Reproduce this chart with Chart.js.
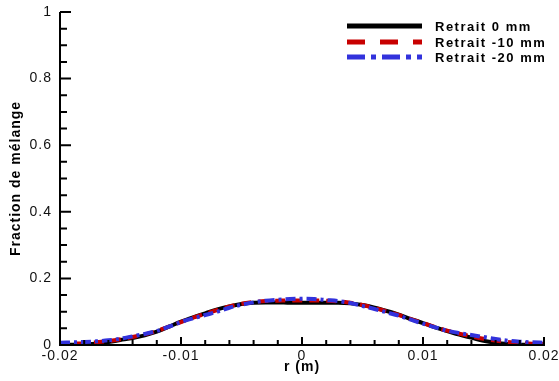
<!DOCTYPE html>
<html><head><meta charset="utf-8">
<script src="https://cdn.jsdelivr.net/npm/chart.js@4/dist/chart.umd.min.js"></script>
<style>html,body{margin:0;padding:0;background:#fff}#wrap{width:559px;height:381px}</style>
</head><body><div id="wrap"><canvas id="c" width="559" height="381"></canvas></div>
<script>
const radius = [-0.020,-0.019,-0.018,-0.017,-0.016,-0.015,-0.014,-0.013,-0.012,-0.011,-0.010,-0.009,-0.008,-0.007,-0.006,-0.005,-0.004,-0.003,-0.002,-0.001,0,0.001,0.002,0.003,0.004,0.005,0.006,0.007,0.008,0.009,0.010,0.011,0.012,0.013,0.014,0.015,0.016,0.017,0.018,0.019,0.020];
const retrait0 = [0.001,0.001,0.002,0.004,0.009,0.015,0.021,0.029,0.040,0.055,0.070,0.083,0.095,0.107,0.116,0.123,0.127,0.128,0.128,0.127,0.127,0.127,0.127,0.127,0.125,0.120,0.112,0.102,0.091,0.078,0.066,0.053,0.042,0.031,0.022,0.013,0.007,0.003,0.001,0.001,0.001];
const retrait10 = [0.003,0.004,0.005,0.008,0.012,0.017,0.024,0.032,0.042,0.055,0.069,0.082,0.094,0.105,0.116,0.124,0.129,0.132,0.133,0.134,0.134,0.134,0.133,0.131,0.127,0.120,0.111,0.101,0.090,0.078,0.066,0.054,0.043,0.034,0.026,0.019,0.013,0.009,0.006,0.004,0.003];
const retrait20 = [0.007,0.008,0.009,0.011,0.014,0.019,0.026,0.033,0.042,0.055,0.069,0.080,0.090,0.100,0.112,0.121,0.128,0.133,0.136,0.138,0.139,0.138,0.135,0.132,0.126,0.117,0.108,0.098,0.088,0.076,0.064,0.053,0.043,0.036,0.030,0.024,0.018,0.013,0.010,0.008,0.007];
const seriesLabels = ['Retrait 0 mm','Retrait -10 mm','Retrait -20 mm'];
const xMajorTicks = [-0.02,-0.01,0,0.01,0.02];
const yMajorTicks = [0,0.2,0.4,0.6,0.8,1];

const FONT = '"Liberation Sans", Arial, sans-serif';
const toXY = arr => arr.map((v,i)=>({x:radius[i], y:v}));

const spacing = {
  id: 'spacing',
  beforeLayout(chart){ try { chart.ctx.letterSpacing = '1px'; } catch(e) {} },
  beforeDraw(chart){ try { chart.ctx.letterSpacing = '1px'; } catch(e) {} }
};

const axisTicks = {
  id:'axisTicks',
  afterDraw(chart){
    const ctx = chart.ctx, xs = chart.scales.x, ys = chart.scales.y, a = chart.chartArea;
    ctx.save();
    ctx.strokeStyle = '#000';
    ctx.lineWidth = 2;
    ctx.beginPath();
    ctx.moveTo(a.left, a.top); ctx.lineTo(a.left, a.bottom + 1);
    ctx.moveTo(a.left - 1, a.bottom); ctx.lineTo(a.right + 1, a.bottom);
    for (let k = -10; k <= 10; k++) {
      const v = k * 0.002;
      const px = xs.getPixelForValue(v);
      const major = k % 5 === 0;
      ctx.moveTo(px, a.bottom); ctx.lineTo(px, a.bottom - (major ? 8 : 5));
    }
    for (let k = 0; k <= 20; k++) {
      const v = k * 0.05;
      const py = ys.getPixelForValue(v);
      const major = k % 4 === 0;
      ctx.moveTo(a.left, py); ctx.lineTo(a.left + (major ? 11 : 7), py);
    }
    ctx.stroke();

    const ds = chart.data.datasets;
    const rows = [26, 42, 57];
    ctx.font = 'bold 13px ' + FONT;
    ctx.textBaseline = 'middle';
    ctx.textAlign = 'left';
    try { ctx.letterSpacing = '1.5px'; } catch(e) {}
    ds.forEach((d, i) => {
      const y = rows[i];
      ctx.beginPath();
      ctx.strokeStyle = d.borderColor;
      ctx.lineWidth = 5;
      ctx.setLineDash(d.legendDash || []);
      ctx.moveTo(347, y); ctx.lineTo(422, y);
      ctx.stroke();
      ctx.setLineDash([]);
      ctx.fillStyle = '#000';
      ctx.fillText(d.label, 435, y + 1);
    });
    ctx.restore();
  }
};

new Chart(document.getElementById('c'), {
  type: 'line',
  data: {
    datasets: [
      {label: seriesLabels[0], data: toXY(retrait0), borderColor:'#000000', borderWidth:4, pointRadius:0, cubicInterpolationMode:'monotone', order:3, legendDash:[]},
      {label: seriesLabels[1], data: toXY(retrait10), borderColor:'#c80000', borderWidth:4, borderDash:[10,7], pointRadius:0, cubicInterpolationMode:'monotone', order:2, legendDash:[18,15]},
      {label: seriesLabels[2], data: toXY(retrait20), borderColor:'#3232dc', borderWidth:4, borderDash:[10,4,3,4], pointRadius:0, cubicInterpolationMode:'monotone', order:1, legendDash:[18,6,5,6]}
    ]
  },
  options: {
    responsive: false,
    animation: false,
    devicePixelRatio: 1,
    layout: {padding: {top: 12, right: 15, left: 0, bottom: 0}},
    plugins: {legend: {display: false}, tooltip: {enabled: false}},
    scales: {
      x: {
        type: 'linear', min: -0.02, max: 0.02,
        afterBuildTicks: s => { s.ticks = xMajorTicks.map(v => ({value: v})); },
        afterFit: s => { s.height = 36; s.paddingLeft = 0; s.paddingRight = 0; },
        grid: {display: false, drawTicks: false},
        border: {display: false},
        ticks: {
          padding: 3, color: '#111', maxRotation: 0, autoSkip: false,
          font: {family: FONT, size: 14},
          callback: v => (Math.abs(v) < 1e-9 ? '0' : String(Math.round(v * 100) / 100))
        },
        title: {display: true, text: 'r (m)', color: '#000', font: {family: FONT, size: 14, weight: 'bold'}, padding: {top: 0, bottom: 5}}
      },
      y: {
        type: 'linear', min: 0, max: 1,
        afterBuildTicks: s => { s.ticks = yMajorTicks.map(v => ({value: v})); },
        afterFit: s => { s.width = 60; s.paddingTop = 0; s.paddingBottom = 0; },
        grid: {display: false, drawTicks: false},
        border: {display: false},
        ticks: {
          padding: 8, color: '#111',
          font: {family: FONT, size: 14},
          callback: v => (Math.abs(v) < 1e-9 ? '0' : String(Math.round(v * 10) / 10))
        },
        title: {display: true, text: 'Fraction de mélange', color: '#000', font: {family: FONT, size: 14, weight: 'bold'}, padding: {top: 8, bottom: 0}}
      }
    }
  },
  plugins: [spacing, axisTicks]
});
</script>
</body></html>
